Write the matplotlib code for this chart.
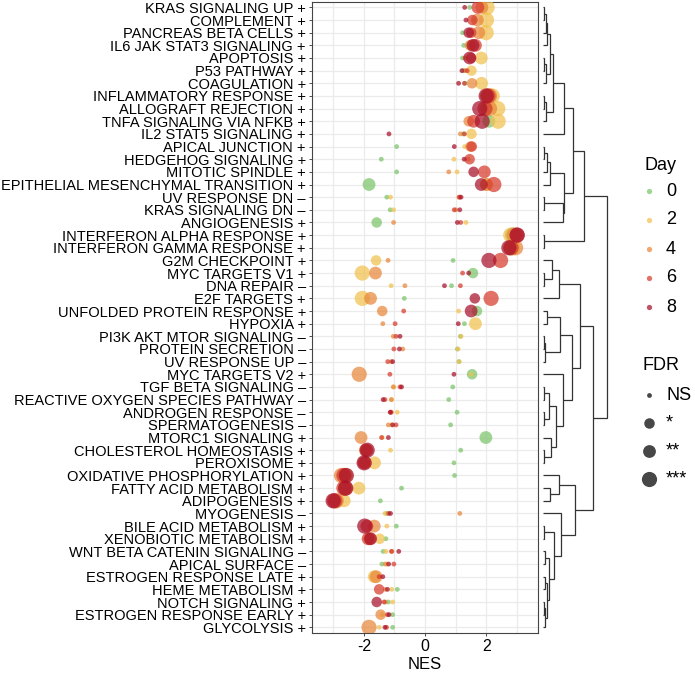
import matplotlib
matplotlib.use("Agg")
import matplotlib.pyplot as plt
import numpy as np

plt.rcParams['font.family'] = ['Liberation Sans', 'DejaVu Sans']
plt.rcParams['axes.unicode_minus'] = False

# ---------------- data ----------------
pathways = [
    "KRAS SIGNALING UP", "COMPLEMENT", "PANCREAS BETA CELLS", "IL6 JAK STAT3 SIGNALING",
    "APOPTOSIS", "P53 PATHWAY", "COAGULATION", "INFLAMMATORY RESPONSE", "ALLOGRAFT REJECTION",
    "TNFA SIGNALING VIA NFKB", "IL2 STAT5 SIGNALING", "APICAL JUNCTION", "HEDGEHOG SIGNALING",
    "MITOTIC SPINDLE", "EPITHELIAL MESENCHYMAL TRANSITION", "UV RESPONSE DN", "KRAS SIGNALING DN",
    "ANGIOGENESIS", "INTERFERON ALPHA RESPONSE", "INTERFERON GAMMA RESPONSE", "G2M CHECKPOINT",
    "MYC TARGETS V1", "DNA REPAIR", "E2F TARGETS", "UNFOLDED PROTEIN RESPONSE", "HYPOXIA",
    "PI3K AKT MTOR SIGNALING", "PROTEIN SECRETION", "UV RESPONSE UP", "MYC TARGETS V2",
    "TGF BETA SIGNALING", "REACTIVE OXYGEN SPECIES PATHWAY", "ANDROGEN RESPONSE", "SPERMATOGENESIS",
    "MTORC1 SIGNALING", "CHOLESTEROL HOMEOSTASIS", "PEROXISOME", "OXIDATIVE PHOSPHORYLATION",
    "FATTY ACID METABOLISM", "ADIPOGENESIS", "MYOGENESIS", "BILE ACID METABOLISM",
    "XENOBIOTIC METABOLISM", "WNT BETA CATENIN SIGNALING", "APICAL SURFACE", "ESTROGEN RESPONSE LATE",
    "HEME METABOLISM", "NOTCH SIGNALING", "ESTROGEN RESPONSE EARLY", "GLYCOLYSIS",
]
signs = list("+++++++++++++++––+++++–+++–––+––––++++++–++––+++++")

days = [0, 2, 4, 6, 8]
day_colors = ["#7cc46a", "#f2c14e", "#e8873a", "#d73a2c", "#a8102a"]

nes_d0 = [1.45, 1.60, 1.22, 1.26, 1.22, 1.25, 1.30, 2.00, 2.00, 2.08,
          1.25, -0.93, -1.43, -0.93, -1.83, -1.25, -1.14, -1.58, 2.85, 2.80,
          0.91, 1.56, 0.86, -0.68, 1.69, 1.28, 1.15, 1.05, 1.10, 1.53,
          0.90, 0.77, 1.04, 0.83, 1.98, 1.16, 0.94, 0.96, -0.77, -1.46,
          -1.25, -0.94, -1.28, -1.37, -1.41, -1.50, -0.91, -1.20, -1.06, -1.06]
nes_d2 = [2.02, 2.00, 1.99, 1.50, 1.83, 1.51, 1.84, 2.19, 2.37, 2.38,
          1.51, 1.29, 0.94, 1.04, 2.00, -1.13, -1.03, 1.33, 2.79, 2.85,
          -1.60, -2.05, -1.11, -2.05, 1.09, 1.64, 1.17, 1.07, 1.11, 1.50,
          -1.02, -1.10, -0.91, -1.10, -1.40, -1.13, -1.65, -2.60, -2.16, -2.64,
          -1.31, -1.25, -1.48, -1.28, -1.25, -1.66, -1.09, -1.06, -1.40, -1.50]
nes_d4 = [1.85, 1.70, 1.75, 1.46, 1.30, 1.30, 1.53, 2.10, 2.10, 1.42,
          1.15, 1.48, 1.40, 0.77, 2.00, 1.10, 1.00, -1.03, 2.90, 2.95,
          -1.21, -1.62, -0.66, -1.78, -1.40, -1.38, -1.04, -0.73, -1.11, -2.15,
          -1.04, -1.10, -1.10, -1.20, -2.09, -1.95, -1.95, -2.73, -2.60, -2.90,
          1.13, -1.66, -1.80, -1.08, -1.30, -1.60, -1.30, -1.30, -1.45, -1.83]
nes_d6 = [1.72, 1.54, 1.50, 1.64, 1.50, 1.37, 1.28, 2.05, 1.95, 1.58,
          1.28, 1.52, 1.45, 1.93, 2.24, 1.12, 0.95, 1.16, 3.00, 2.80,
          2.46, 1.22, 1.15, 2.15, -0.70, -0.98, -0.95, -1.02, -1.22, -1.15,
          -0.82, -1.31, -1.12, -0.95, -1.42, -1.90, -2.00, -2.65, -2.65, -2.95,
          -1.19, -1.90, -1.86, -1.10, -1.02, -1.50, -1.50, -1.34, -1.23, -1.26]
nes_d8 = [1.29, 1.33, 1.42, 1.56, 1.45, 1.20, 1.09, 1.99, 1.78, 1.86,
          -1.18, 0.95, 1.27, 1.58, 1.83, 1.17, 1.13, 1.05, 3.00, 2.73,
          2.08, 1.42, 0.63, 1.62, 1.50, 1.08, -0.82, -0.84, -1.06, 0.94,
          -0.77, -1.37, -1.14, -1.06, -1.20, -1.89, -1.99, -2.57, -2.59, -3.00,
          -1.13, -1.97, -1.78, -0.86, -1.19, -1.38, -1.23, -1.58, -1.18, -1.31]

# FDR class: 0 = NS, 1 = *, 2 = **, 3 = ***
fdr_d0 = [0, 0, 0, 0, 0, 0, 0, 2, 2, 2, 0, 0, 0, 0, 2, 0, 0, 1, 3, 3,
          0, 1, 0, 0, 1, 0, 0, 0, 0, 1, 0, 0, 0, 0, 2, 0, 0, 0, 0, 0,
          0, 0, 0, 0, 0, 0, 0, 0, 0, 0]
fdr_d2 = [3, 3, 3, 1, 2, 1, 2, 3, 3, 3, 1, 0, 0, 0, 2, 0, 0, 0, 3, 3,
          1, 3, 0, 3, 0, 2, 0, 0, 0, 0, 0, 0, 0, 0, 0, 0, 2, 3, 2, 2,
          0, 0, 1, 0, 0, 2, 0, 0, 0, 0]
fdr_d4 = [2, 2, 2, 1, 0, 0, 1, 3, 3, 1, 0, 1, 0, 0, 2, 0, 0, 0, 3, 3,
          0, 2, 0, 2, 1, 0, 0, 0, 0, 3, 0, 0, 0, 0, 2, 2, 2, 3, 3, 3,
          0, 2, 2, 0, 0, 2, 0, 0, 1, 3]
fdr_d6 = [2, 1, 1, 2, 1, 0, 0, 3, 3, 2, 0, 1, 1, 2, 3, 0, 0, 0, 3, 3,
          3, 0, 0, 3, 0, 0, 0, 0, 0, 0, 0, 0, 0, 0, 0, 2, 2, 3, 3, 3,
          0, 2, 2, 0, 0, 0, 1, 0, 0, 0]
fdr_d8 = [0, 0, 1, 2, 2, 0, 0, 3, 3, 3, 0, 0, 0, 1, 2, 0, 0, 0, 3, 3,
          3, 0, 0, 1, 2, 0, 0, 0, 0, 0, 0, 0, 0, 0, 0, 3, 3, 3, 3, 3,
          0, 3, 2, 0, 0, 0, 0, 1, 0, 0]

fdr_labels = ["NS", "*", "**", "***"]

# dendrogram merges: (name, child_a, child_b, height); ints are leaf rows
merges = [
    ("A1", 0, 1, 1.3), ("A2", "A1", 2, 2.7), ("A3", "A2", 3, 4.0),
    ("B1", 4, 5, 1.3), ("B2", "B1", 6, 2.7), ("AB", "A3", "B2", 7.3),
    ("C1", 7, 8, 1.3), ("C2", "C1", 9, 3.3), ("ABC", "AB", "C2", 10.0),
    ("ABCD", "ABC", 10, 21.0),
    ("E1", 11, 12, 1.3), ("E2", "E1", 13, 4.0), ("E3", "E2", 14, 7.3),
    ("F1", 15, 16, 1.3), ("F2", "F1", 17, 20.0), ("EF", "E3", "F2", 20.5),
    ("ABEF", "ABCD", "EF", 30.0), ("G", 18, 19, 1.3), ("TOP", "ABEF", "G", 40.7),
    ("H1", 21, 22, 1.3), ("H2", 20, "H1", 9.3), ("H3", "H2", 23, 16.0),
    ("I1", 24, 25, 4.0), ("I2", 26, 27, 1.3), ("I3", "I2", 28, 2.3), ("I4", "I1", "I3", 16.7),
    ("M1", 30, 31, 1.3), ("M2", 32, 33, 1.3), ("M", "M1", "M2", 6.0),
    ("N1", 35, 36, 1.3), ("N", 34, "N1", 8.0), ("L", "M", "N", 12.7),
    ("K", 29, "L", 20.0), ("P", "I4", "K", 29.4), ("Q", "H3", "P", 37.3),
    ("R1", 38, 39, 7.3), ("R", 37, "R1", 16.0),
    ("U1", 43, 44, 1.5), ("U2", 45, 46, 1.5), ("U3", 47, 48, 1.0), ("U4", "U3", 49, 2.0),
    ("U5", "U2", "U4", 4.0), ("U", "U1", "U5", 6.0),
    ("T1", 41, 42, 1.3), ("T", "T1", "U", 11.0), ("S", 40, "T", 18.3),
    ("V", "R", "S", 32.0), ("BOT", "Q", "V", 50.0), ("ROOT", "TOP", "BOT", 64.0),
]

# ---------------- layout helpers ----------------
W, H = 695, 676
fig = plt.figure(figsize=(W / 100, H / 100), dpi=100)


def rect(l, t, r, b):
    return [l / W, 1 - b / H, (r - l) / W, (b - t) / H]


size_px = [4.8, 10.5, 12.8, 15.2]
size_pt2 = [(d * 0.72) ** 2 for d in size_px]
ALPHA = 0.72

# ---------------- main dot plot ----------------
ax = fig.add_axes(rect(312, 1.7, 538, 633))
n = len(pathways)
ypos = np.arange(n)
nes_all = [nes_d0, nes_d2, nes_d4, nes_d6, nes_d8]
fdr_all = [fdr_d0, fdr_d2, fdr_d4, fdr_d6, fdr_d8]
for col, nes, fdr in zip(day_colors, nes_all, fdr_all):
    ax.scatter(nes, ypos, s=[size_pt2[f] for f in fdr], color=col, alpha=ALPHA,
               linewidths=0, zorder=3)

ax.set_xlim(-3.69, 3.68)
ax.set_ylim(n - 1 + 0.45, -0.45)
ax.set_xticks([-2, 0, 2])
ax.set_xticks([-3, -1, 1, 3], minor=True)
ax.set_yticks(ypos)
ax.set_yticklabels([f"{p} {s}" for p, s in zip(pathways, signs)], fontsize=10.5, color="black")
ax.tick_params(axis="y", length=2.2, width=0.6, color="#333333", pad=2.2)
ax.tick_params(axis="x", which="major", length=2.5, width=0.6, color="#333333", pad=2,
               labelsize=11.5, labelcolor="black")
ax.tick_params(axis="x", which="minor", length=0)
ax.grid(True, which="major", axis="both", color="#ebebeb", lw=0.9, zorder=0)
ax.grid(True, which="minor", axis="x", color="#ebebeb", lw=0.9, zorder=0)
ax.set_axisbelow(True)
for sp in ax.spines.values():
    sp.set_color("#444444")
    sp.set_linewidth(0.8)
ax.set_xlabel("NES", fontsize=12, labelpad=2)

# ---------------- dendrogram ----------------
dax = fig.add_axes(rect(538, 1.7, 612, 633))
dax.set_xlim(-5, 69)
dax.set_ylim(n - 1 + 0.45, -0.45)
dax.axis("off")
pos = {i: (float(i), 0.0) for i in range(n)}
for name, a, b, h in merges:
    ya, ha = pos[a]
    yb, hb = pos[b]
    dax.plot([ha, h, h, hb], [ya, ya, yb, yb], color="#333333", lw=0.9,
             solid_joinstyle="miter", solid_capstyle="butt")
    pos[name] = ((ya + yb) / 2, h)

# ---------------- legends ----------------
lax = fig.add_axes([0, 0, 1, 1], zorder=-1)
lax.set_xlim(0, W)
lax.set_ylim(H, 0)
lax.axis("off")

lax.text(644, 165, "Day", fontsize=13, va="center", ha="left")
for i, (d, col) in enumerate(zip(days, day_colors)):
    y = 191 + 29 * i
    lax.scatter([649], [y], s=(5.3 * 0.72) ** 2, color=col, alpha=ALPHA, linewidths=0)
    lax.text(666, y, str(d), fontsize=13, va="center", ha="left")

lax.text(643, 365, "FDR", fontsize=13, va="center", ha="left")
for i, lab in enumerate(fdr_labels):
    y = 395 + 28 * i
    lax.scatter([649], [y], s=size_pt2[i], color="black", alpha=ALPHA, linewidths=0)
    lax.text(666, y, lab, fontsize=13, va="center", ha="left")

fig.savefig("out.png", dpi=100)
